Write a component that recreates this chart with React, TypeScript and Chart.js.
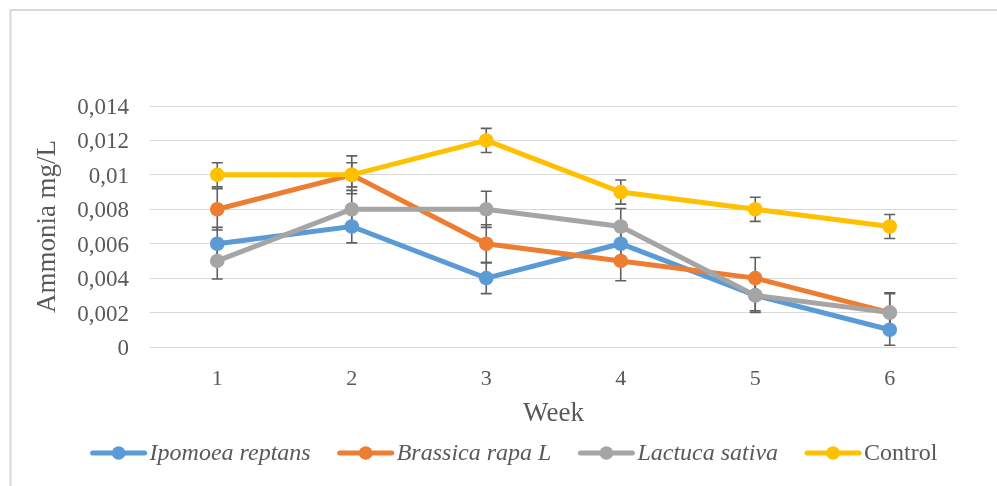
import React, { useEffect, useRef } from "react";
import { Chart, registerables } from "chart.js";

Chart.register(...registerables);

// ---- data ----
const weeks = ["1", "2", "3", "4", "5", "6"];
const seriesNames = ["Ipomoea reptans", "Brassica rapa L", "Lactuca sativa", "Control"];
const ipomoea = [0.006, 0.007, 0.004, 0.006, 0.003, 0.001];
const brassica = [0.008, 0.01, 0.006, 0.005, 0.004, 0.002];
const lactuca = [0.005, 0.008, 0.008, 0.007, 0.003, 0.002];
const control = [0.01, 0.01, 0.012, 0.009, 0.008, 0.007];
const ipomoeaErr = [0.00095, 0.00095, 0.0009, 0.001, 0.0009, 0.0009];
const brassicaErr = [0.0012, 0.0011, 0.0011, 0.00115, 0.0012, 0.0011];
const lactucaErr = [0.00105, 0.0011, 0.00105, 0.00105, 0.001, 0.00115];
const controlErr = [0.0007, 0.0007, 0.0007, 0.0007, 0.0007, 0.0007];
const yMin = 0;
const yMax = 0.014;
const yStep = 0.002;

const colors = ["#5B9BD5", "#ED7D31", "#A5A5A5", "#FFC000"];
const italicLegend = [true, true, true, false];
const TEXT = "#595959";
const FONT = "'Liberation Serif', 'Times New Roman', serif";

const errorBarPlugin = {
  id: "errorBars",
  beforeDatasetsDraw(chart: any) {
    const { ctx, scales } = chart;
    const x = scales.x;
    const y = scales.y;
    ctx.save();
    ctx.strokeStyle = "#606060";
    ctx.lineWidth = 1.6;
    chart.data.datasets.forEach((ds: any) => {
      const errs: number[] = ds.errors || [];
      ds.data.forEach((v: number, j: number) => {
        const e = errs[j];
        if (!e) return;
        const px = x.getPixelForValue(j);
        const top = y.getPixelForValue(v + e);
        const bot = y.getPixelForValue(v - e);
        ctx.beginPath();
        ctx.moveTo(px, top);
        ctx.lineTo(px, bot);
        ctx.moveTo(px - 5.5, top);
        ctx.lineTo(px + 5.5, top);
        ctx.moveTo(px - 5.5, bot);
        ctx.lineTo(px + 5.5, bot);
        ctx.stroke();
      });
    });
    ctx.restore();
  },
};

const frameAndLegendPlugin = {
  id: "frameLegend",
  beforeDraw(chart: any) {
    const { ctx } = chart;
    ctx.save();
    ctx.fillStyle = "#ffffff";
    ctx.fillRect(0, 0, chart.width, chart.height);
    ctx.strokeStyle = "#d9d9d9";
    ctx.lineWidth = 2;
    ctx.strokeRect(10.5, 10, chart.width + 20, chart.height + 20);
    ctx.restore();
  },
  afterDraw(chart: any) {
    const { ctx } = chart;
    const sampleW = 56;
    const gapText = 3;
    const gapItem = 27;
    const cy = 453;
    ctx.save();
    const fonts = italicLegend.map((it) => `${it ? "italic " : ""}24px ${FONT}`);
    const widths = seriesNames.map((n, i) => {
      ctx.font = fonts[i];
      return ctx.measureText(n).width;
    });
    let total = 0;
    widths.forEach((w, i) => {
      total += sampleW + gapText + w + (i < widths.length - 1 ? gapItem : 0);
    });
    let x = 514 - total / 2;
    seriesNames.forEach((n, i) => {
      ctx.strokeStyle = colors[i];
      ctx.lineWidth = 5;
      ctx.lineCap = "round";
      ctx.beginPath();
      ctx.moveTo(x + 2, cy);
      ctx.lineTo(x + sampleW - 2, cy);
      ctx.stroke();
      ctx.fillStyle = colors[i];
      ctx.beginPath();
      ctx.arc(x + sampleW / 2, cy, 6.8, 0, Math.PI * 2);
      ctx.fill();
      ctx.font = fonts[i];
      ctx.fillStyle = TEXT;
      ctx.textBaseline = "middle";
      ctx.textAlign = "left";
      ctx.fillText(n, x + sampleW + gapText, cy + 1);
      x += sampleW + gapText + widths[i] + gapItem;
    });
    ctx.restore();
  },
};

function fmt(v: number) {
  return parseFloat(Number(v).toFixed(4)).toString().replace(".", ",");
}

export default function App() {
  const ref = useRef<HTMLCanvasElement | null>(null);
  useEffect(() => {
    if (!ref.current) return;
    const values = [ipomoea, brassica, lactuca, control];
    const errs = [ipomoeaErr, brassicaErr, lactucaErr, controlErr];
    const chart = new Chart(ref.current, {
      type: "line",
      data: {
        labels: weeks,
        datasets: seriesNames.map((name, i) => ({
          label: name,
          data: values[i],
          errors: errs[i],
          borderColor: colors[i],
          backgroundColor: colors[i],
          borderWidth: 5,
          pointRadius: 7.3,
          pointBorderWidth: 0,
          pointBackgroundColor: colors[i],
          pointHoverRadius: 7.3,
          tension: 0,
          order: 4 - i,
        })) as any,
      },
      options: {
        responsive: false,
        animation: false,
        layout: { padding: { left: 20, top: 106, right: 40, bottom: 53 } },
        plugins: {
          legend: { display: false },
          tooltip: { enabled: false },
        },
        scales: {
          x: {
            type: "category",
            offset: true,
            grid: { display: false },
            border: { display: false },
            ticks: { color: TEXT, font: { family: FONT, size: 22 }, padding: 11 },
            title: {
              display: true,
              text: "Week",
              color: TEXT,
              font: { family: FONT, size: 27 },
              padding: { top: 0, bottom: 3 },
            },
            afterFit: (s: any) => {
              s.height = 86;
            },
          },
          y: {
            min: yMin,
            max: yMax,
            ticks: {
              stepSize: yStep,
              color: TEXT,
              font: { family: FONT, size: 23 },
              padding: 21,
              labelOffset: 2,
              callback: (v: any) => fmt(v),
            },
            grid: { color: "#d9d9d9", lineWidth: 1, drawTicks: false },
            border: { display: false },
            title: {
              display: true,
              text: "Ammonia mg/L",
              color: TEXT,
              font: { family: FONT, size: 27 },
              padding: { top: 12, bottom: 0 },
            },
            afterFit: (s: any) => {
              s.width = 130;
            },
          },
        },
      } as any,
      plugins: [errorBarPlugin, frameAndLegendPlugin],
    });
    return () => chart.destroy();
  }, []);
  return (
    <div style={{ position: "absolute", left: 0, top: 0, width: 997, height: 486 }}>
      <canvas ref={ref} width={997} height={486} style={{ display: "block" }} />
    </div>
  );
}
